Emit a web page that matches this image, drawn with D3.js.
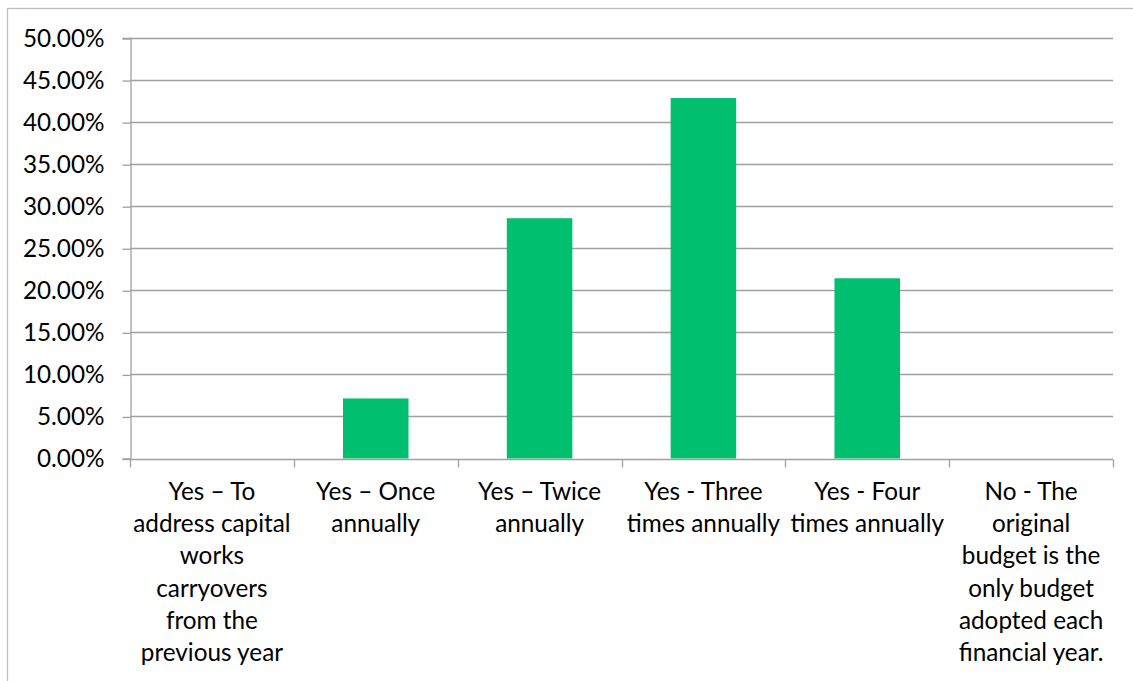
<!DOCTYPE html>
<html>
<head>
<meta charset="utf-8">
<script src="https://cdn.jsdelivr.net/npm/d3@7"></script>
<style>
  html, body { margin: 0; padding: 0; background: #fff; }
  svg { display: block; }
  text { font-family: Lato, "Open Sans", sans-serif; fill: #000; }
</style>
</head>
<body>
<svg id="chart" width="1133" height="681"></svg>
<script>
// Survey responses: how often the budget is revised each year
const categories = [
  "Yes – To address capital works carryovers from the previous year",
  "Yes – Once annually",
  "Yes – Twice annually",
  "Yes - Three times annually",
  "Yes - Four times annually",
  "No - The original budget is the only budget adopted each financial year."
];
// Wrapped lines of each category label
const categoryLines = [
  ["Yes – To", "address capital", "works", "carryovers", "from the", "previous year"],
  ["Yes – Once", "annually"],
  ["Yes – Twice", "annually"],
  ["Yes - Three", "times annually"],
  ["Yes - Four", "times annually"],
  ["No - The", "original", "budget is the", "only budget", "adopted each", "financial year."]
];
const shares = [0, 7.14, 28.57, 42.86, 21.43, 0];
const yTicks = [0, 5, 10, 15, 20, 25, 30, 35, 40, 45, 50];

const svg = d3.select("#chart");
const W = 1133, H = 681;
const plot = { left: 130, right: 1113, top: 38, bottom: 458.5 };

// Outer chart frame (runs off the right and bottom edges)
svg.append("rect")
  .attr("x", 7.5).attr("y", 8.5)
  .attr("width", W + 20).attr("height", H + 20)
  .attr("fill", "none").attr("stroke", "#BFBFBF").attr("stroke-width", 1.3);

const x = d3.scaleBand().domain(categories).range([plot.left, plot.right]).paddingInner(0.6).paddingOuter(0.3);
const xEdges = d3.scaleBand().domain(categories).range([plot.left, plot.right]).padding(0);
const y = d3.scaleLinear().domain([0, 50]).range([plot.bottom, plot.top]);

const gridColor = "#A0A0A0";
const fontSize = 24.3;

// Horizontal gridlines
svg.append("g").selectAll("line").data(yTicks.filter(d => d > 0)).join("line")
  .attr("x1", plot.left).attr("x2", plot.right)
  .attr("y1", d => Math.round(y(d)) + 0.5).attr("y2", d => Math.round(y(d)) + 0.5)
  .attr("stroke", gridColor).attr("stroke-width", 1.3);

// Y axis
const yAxis = d3.axisLeft(y).tickValues(yTicks).tickSize(8).tickPadding(18)
  .tickFormat(d => d.toFixed(2) + "%");
const gy = svg.append("g").attr("transform", `translate(${plot.left + 0.5},0)`).call(yAxis);
gy.select(".domain").attr("stroke", gridColor).attr("stroke-width", 1.3);
gy.selectAll(".tick line").attr("stroke", gridColor).attr("stroke-width", 1.3)
  .attr("transform", "translate(0,0.5)");
gy.selectAll(".tick text").attr("font-size", fontSize).attr("font-family", "Lato, sans-serif")
  .attr("fill", "#000").attr("dy", "0.33em");

// Bars
svg.append("g").selectAll("rect").data(shares).join("rect")
  .attr("x", (d, i) => x(categories[i]))
  .attr("width", x.bandwidth())
  .attr("y", d => y(d))
  .attr("height", d => y(0) - y(d))
  .attr("fill", "#00BF6F");

// X axis baseline and category boundary ticks
const base = Math.round(y(0)) + 0.5;
svg.append("line")
  .attr("x1", plot.left).attr("x2", plot.right)
  .attr("y1", base).attr("y2", base)
  .attr("stroke", gridColor).attr("stroke-width", 1.3);
const edges = categories.map(c => xEdges(c)).concat([plot.right]);
svg.append("g").selectAll("line").data(edges).join("line")
  .attr("x1", d => Math.round(d) + 0.5).attr("x2", d => Math.round(d) + 0.5)
  .attr("y1", base).attr("y2", base + 8)
  .attr("stroke", gridColor).attr("stroke-width", 1.3);

// Category labels
const lab = svg.append("g").selectAll("text").data(categories).join("text")
  .attr("text-anchor", "middle")
  .attr("font-size", fontSize)
  .attr("x", c => xEdges(c) + xEdges.bandwidth() / 2)
  .attr("y", 500);
lab.each(function(c, i) {
  d3.select(this).selectAll("tspan").data(categoryLines[i]).join("tspan")
    .attr("x", xEdges(c) + xEdges.bandwidth() / 2)
    .attr("y", (d, j) => 500 + j * 32.2)
    .text(d => d);
});
</script>
</body>
</html>
